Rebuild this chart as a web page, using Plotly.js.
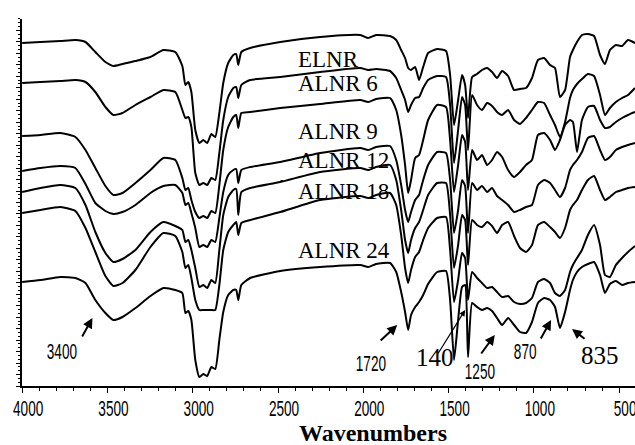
<!DOCTYPE html>
<html>
<head>
<meta charset="utf-8">
<script src="https://cdn.plot.ly/plotly-3.0.1.min.js"></script>
<style>
  html, body { margin: 0; padding: 0; background: #ffffff; }
  #chart { width: 635px; height: 445px; }
</style>
</head>
<body>
<div id="chart"></div>
<script>
// Wavenumber grid (cm-1) shared by all spectra
const wavenumber = [4000, 3893, 3776, 3688, 3629, 3571, 3512, 3465, 3412, 3336,
  3248, 3172, 3102, 3061, 3043, 3026, 3008, 2985, 2961, 2938,
  2915, 2891, 2868, 2844, 2821, 2792, 2762, 2745, 2733, 2715,
  2663, 2487, 2253, 2018, 1971, 1925, 1843, 1807, 1778, 1755,
  1737, 1720, 1696, 1673, 1649, 1620, 1567, 1515, 1491, 1468,
  1444, 1421, 1403, 1386, 1362, 1333, 1304, 1274, 1245, 1216,
  1186, 1151, 1116, 1081, 1046, 1011, 976, 940, 905, 876,
  847, 817, 788, 771, 747, 718, 683, 647, 612, 583,
  554, 519, 483, 448, 407];

// Stacked transmittance traces (arbitrary offset units)
const elnr = [357, 358, 359, 360, 358, 348, 338, 334, 336, 339,
  343, 350, 348, 334, 315, 318, 308, 270, 257, 260,
  257, 266, 263, 287, 317, 337, 345, 346, 335, 348,
  352, 358, 363, 365, 362, 365, 364, 360, 350, 342,
  332, 330, 333, 320, 333, 347, 351, 349, 325, 275,
  300, 325, 315, 282, 323, 326, 330, 332, 328, 322,
  329, 324, 310, 311, 312, 322, 340, 342, 335, 332,
  303, 310, 343, 350, 358, 365, 366, 364, 345, 336,
  350, 355, 354, 360, 357];
const alnr6 = [317, 318, 319, 320, 318, 308, 293, 285, 287, 295,
  303, 310, 308, 290, 282, 283, 273, 227, 215, 217,
  215, 222, 220, 247, 280, 303, 312, 313, 302, 315,
  320, 323, 328, 332, 330, 331, 329, 322, 310, 300,
  288, 295, 302, 303, 312, 320, 324, 323, 295, 237,
  270, 303, 295, 250, 305, 295, 290, 297, 294, 288,
  285, 290, 280, 276, 282, 290, 298, 297, 285, 275,
  263, 278, 302, 310, 316, 321, 326, 324, 305, 285,
  292, 298, 302, 305, 312];
const alnr9 = [264, 265, 267, 263, 250, 232, 214, 205, 207, 217,
  230, 242, 240, 222, 210, 212, 200, 188, 182, 184,
  182, 189, 187, 215, 250, 273, 283, 285, 272, 287,
  288, 292, 296, 300, 298, 301, 302, 290, 265, 235,
  207, 220, 242, 245, 260, 280, 295, 293, 260, 208,
  235, 265, 258, 210, 250, 240, 245, 235, 240, 248,
  243, 230, 223, 228, 235, 240, 265, 267, 260, 250,
  260, 275, 280, 278, 248, 280, 293, 294, 280, 272,
  273, 278, 282, 285, 288];
const alnr12 = [229, 232, 234, 232, 216, 197, 189, 186, 188, 195,
  207, 214, 215, 207, 195, 197, 187, 172, 153, 155,
  153, 160, 158, 182, 208, 225, 230, 231, 217, 230,
  233, 238, 247, 252, 250, 253, 254, 240, 215, 190,
  178, 188, 200, 205, 220, 235, 248, 247, 220, 167,
  190, 220, 214, 167, 217, 210, 214, 208, 212, 204,
  200, 195, 188, 190, 193, 195, 215, 220, 217, 210,
  203, 212, 230, 235, 240, 248, 262, 264, 250, 240,
  243, 250, 253, 255, 257];
const alnr18 = [208, 212, 215, 212, 195, 168, 147, 138, 141, 150,
  168, 178, 174, 170, 158, 160, 150, 132, 113, 115,
  112, 120, 117, 150, 185, 203, 210, 211, 185, 208,
  212, 218, 228, 232, 230, 233, 235, 220, 190, 160,
  147, 160, 172, 178, 190, 205, 217, 217, 185, 132,
  155, 185, 180, 135, 180, 175, 173, 178, 174, 167,
  175, 178, 164, 152, 148, 155, 175, 178, 173, 168,
  162, 172, 190, 195, 200, 210, 220, 224, 210, 200,
  203, 208, 210, 212, 213];
const alnr24 = [187, 190, 193, 189, 172, 148, 124, 114, 117, 130,
  153, 167, 164, 148, 132, 135, 122, 100, 90, 90,
  90, 90, 90, 115, 150, 168, 175, 178, 165, 177,
  180, 188, 200, 204, 202, 205, 207, 195, 165, 132,
  117, 130, 143, 148, 160, 172, 182, 183, 150, 98,
  120, 147, 142, 100, 128, 122, 117, 112, 113, 108,
  103, 104, 98, 96, 97, 102, 118, 121, 117, 107,
  104, 110, 128, 135, 142, 150, 165, 175, 155, 125,
  123, 135, 142, 148, 154];
const lowest = [118, 120, 123, 122, 117, 100, 87, 80, 83, 92,
  104, 112, 110, 107, 87, 89, 80, 40, 23, 26,
  24, 33, 31, 60, 88, 105, 110, 110, 100, 115,
  122, 129, 133, 135, 133, 136, 137, 128, 108, 88,
  70, 85, 93, 98, 105, 116, 128, 129, 100, 40,
  80, 113, 115, 43, 97, 93, 90, 92, 89, 82,
  75, 82, 75, 68, 67, 78, 97, 102, 100, 93,
  72, 88, 110, 120, 128, 133, 136, 138, 125, 107,
  116, 119, 115, 117, 118];

const seriesNames = ["ELNR", "ALNR 6", "ALNR 9", "ALNR 12", "ALNR 18", "ALNR 24", "spectrum 7"];
const seriesValues = [elnr, alnr6, alnr9, alnr12, alnr18, alnr24, lowest];

const xTickVals = [4000, 3500, 3000, 2500, 2000, 1500, 1000, 500];
const xTickText = ["4000", "3500", "3000", "2500", "2000", "1500", "1000", "500"];

// sample labels (anchored at wavenumber labelX, value labelY)
const labelTexts = ["ELNR", "ALNR 6", "ALNR 9", "ALNR 12", "ALNR 18", "ALNR 24"];
const labelY = [340.5, 317, 269, 239.5, 208.5, 149.5];
const labelX = 2393;

// band annotations
const bandTexts = ["3400", "1720", "140", "1250", "870", "835"];
const bandX = [3764, 1954, 1579, 1315, 1050, 612];
const bandY = [49, 37, 43, 29, 49, 45];
const bandSerif = [false, false, true, false, false, true];
// arrows: tail -> tip
const arrowTailX = [3653, 1907, 1567, 1315, 964, 694];
const arrowTailY = [62, 58, 45, 45, 60, 60];
const arrowTipX = [3588, 1801, 1403, 1229, 899, 776];
const arrowTipY = [82, 75, 90, 65, 80, 71];
const arrowW = [2, 2, 1.2, 2, 2, 2];

const sans = "Liberation Sans, Arial, sans-serif";
const serif = "Liberation Serif, Times New Roman, serif";

const traces = seriesValues.map((vals, i) => ({
  type: "scatter",
  mode: "lines",
  name: seriesNames[i],
  x: wavenumber,
  y: vals,
  line: { color: "#000000", width: 2, shape: "spline", smoothing: 0.5 },
  hoverinfo: "x+y+name"
}));

const annotations = [];
labelTexts.forEach((t, i) => {
  annotations.push({
    xref: "x", yref: "y", x: labelX, y: labelY[i], text: t,
    showarrow: false, xanchor: "left", yanchor: "middle",
    font: { family: serif, size: 23, color: "#000" }
  });
});
bandTexts.forEach((t, i) => {
  annotations.push({
    xref: "x", yref: "y", x: bandX[i], y: bandY[i], text: t,
    showarrow: false, xanchor: "center", yanchor: "middle",
    font: bandSerif[i] ? { family: serif, size: 25, color: "#000" } : { family: sans, size: 17, color: "#000" }
  });
  annotations.push({
    xref: "x", yref: "y", x: arrowTipX[i], y: arrowTipY[i],
    axref: "x", ayref: "y", ax: arrowTailX[i], ay: arrowTailY[i],
    text: "", showarrow: true, arrowhead: 2, arrowsize: 1, arrowwidth: arrowW[i],
    arrowcolor: "#000", standoff: 0, startstandoff: 0
  });
});
annotations.push({
  xref: "paper", yref: "paper", x: 0.5726, y: -0.127, text: "<b>Wavenumbers</b>",
  showarrow: false, xanchor: "center", yanchor: "middle",
  font: { family: serif, size: 24, color: "#000" }
});
annotations.push({
  xref: "x", yref: "y", x: 2477, y: 221, text: "-", showarrow: false,
  font: { family: sans, size: 10, color: "#000" }
});

const layout = {
  width: 635, height: 445,
  margin: { l: 22, r: 0, t: 19, b: 59, pad: 0 },
  paper_bgcolor: "#ffffff", plot_bgcolor: "#ffffff",
  showlegend: false,
  xaxis: {
    range: [4001, 407], autorange: false,
    showgrid: false, zeroline: false,
    showline: true, linecolor: "#000", linewidth: 2,
    ticks: "outside", ticklen: 5, tickwidth: 1, tickcolor: "#000",
    tickvals: xTickVals, ticktext: xTickText,
    ticklabelshift: -6, ticklabelstandoff: 1, ticklabeloverflow: "allow",
    minor: { dtick: 100, tick0: 0, ticks: "outside", ticklen: 3, tickwidth: 1, tickcolor: "#000", showgrid: false },
    tickfont: { family: sans, size: 17, color: "#000" }
  },
  yaxis: {
    range: [14, 381], autorange: false,
    showgrid: false, zeroline: false,
    showline: true, linecolor: "#000", linewidth: 2,
    ticks: "outside", ticklen: 4, tickwidth: 1, tickcolor: "#000",
    tick0: 14, dtick: 11.47, showticklabels: false,
    minor: { dtick: 3.823, tick0: 14, ticks: "outside", ticklen: 2, tickwidth: 1, tickcolor: "#000", showgrid: false }
  },
  annotations: annotations
};

// Narrow, tall look of the original condensed sans labels
function condense(el, sx, sy) {
  const b = el.getBBox();
  const cx = b.x + b.width / 2, cy = b.y + b.height / 2;
  const t = el.getAttribute("transform") || "";
  el.setAttribute("transform", t + " translate(" + cx + "," + cy + ") scale(" + sx + "," + sy + ") translate(" + (-cx) + "," + (-cy) + ")");
}

Plotly.newPlot("chart", traces, layout, { displayModeBar: false, staticPlot: true }).then(function (gd) {
  gd.querySelectorAll(".xtick text").forEach(function (el) { condense(el, 0.8, 1.3); });
  const narrowSet = ["3400", "1720", "1250", "870"];
  gd.querySelectorAll("text.annotation-text").forEach(function (el) {
    if (narrowSet.indexOf(el.textContent) >= 0) condense(el, 0.8, 1.3);
  });
});
</script>
</body>
</html>
